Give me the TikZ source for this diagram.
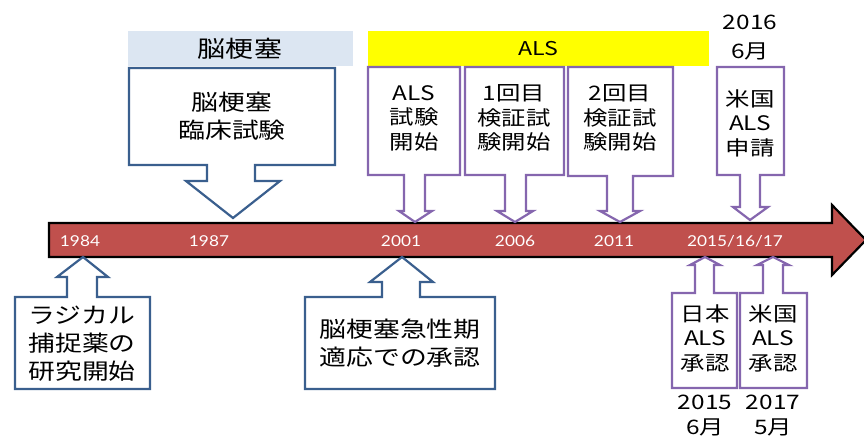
\documentclass[tikz,border=0pt]{standalone}
\usepackage{fontspec}
\newfontfamily\jp[FakeStretch=1.22]{Noto Sans CJK JP}
\newfontfamily\yrfont[FakeStretch=1.15]{Lato}
\definecolor{barred}{HTML}{C0504D}
\definecolor{cblue}{HTML}{3A5F8E}
\definecolor{cpurple}{HTML}{8566AE}
\definecolor{hblue}{HTML}{DCE6F2}
\definecolor{hyellow}{HTML}{FFFF00}
\begin{document}
\begin{tikzpicture}[x=1pt,y=-1pt,
  callblue/.style={draw=cblue,line width=2.2pt,fill=white,line join=miter},
  callpurple/.style={draw=cpurple,line width=2.2pt,fill=white,line join=miter},
  bigtxt/.style={align=center,inner sep=0pt,font={\jp\fontsize{22}{28}\selectfont}},
  smalltxt/.style={align=center,inner sep=0pt,font={\jp\fontsize{20}{24.5}\selectfont}},
  datetxt/.style={align=center,inner sep=0pt,font={\jp\fontsize{20}{25}\selectfont}},
  yr/.style={text=white,inner sep=0pt,font={\yrfont\fontsize{15}{18}\selectfont}},
  hdr/.style={inner sep=0pt,font={\jp\fontsize{23}{26}\selectfont}}]
\useasboundingbox (0,0) rectangle (864,436);

% main timeline arrow
\draw[fill=barred,draw=black,line width=2.2pt,line join=miter]
  (49,223) -- (832,223) -- (832,205) -- (866,240) -- (832,275) -- (832,257) -- (49,257) -- cycle;

% header bars
\fill[hblue] (128,31) rectangle (353,66);
\node[hdr] (hstroke) at (240,48.5) {脳梗塞};
\fill[hyellow] (368,31) rectangle (709,66);
\node[hdr,font={\jp\fontsize{19}{22}\selectfont}] (hals) at (538,48.5) {ALS};

% top callouts
\draw[callblue] (129,68) -- (335,68) -- (335,165) -- (255,165) -- (255,181) -- (280,181) -- (233,218) -- (186,181) -- (207,181) -- (207,165) -- (129,165) -- cycle;
\node[bigtxt] (t1) at (232,116) {脳梗塞\\臨床試験};

\draw[callpurple] (368,67) -- (460,67) -- (460,175) -- (425,175) -- (425,211) -- (432,211) -- (415,222) -- (399,211) -- (404,211) -- (404,175) -- (368,175) -- cycle;
\node[smalltxt] (t2) at (414,118) {ALS\\試験\\開始};

\draw[callpurple] (465,67) -- (564,67) -- (564,175) -- (526,175) -- (526,211) -- (533,211) -- (515,222) -- (497,211) -- (505,211) -- (505,175) -- (465,175) -- cycle;
\node[smalltxt] (t3) at (514,118) {1回目\\検証試\\験開始};

\draw[callpurple] (568,67) -- (673,67) -- (673,176) -- (633,176) -- (633,211) -- (640,211) -- (620,222) -- (600,211) -- (607,211) -- (607,176) -- (568,176) -- cycle;
\node[smalltxt] (t4) at (620,118) {2回目\\検証試\\験開始};

\draw[callpurple] (717,67) -- (784,67) -- (784,175) -- (760,175) -- (760,207) -- (768,207) -- (750,220) -- (733,207) -- (740,207) -- (740,175) -- (717,175) -- cycle;
\node[smalltxt] (t5) at (750,123) {米国\\ALS\\申請};
\node[datetxt,font={\jp\fontsize{20}{29}\selectfont}] (d1) at (750,38) {2016\\6月};

% bottom callouts
\draw[callblue] (15,389) -- (150,389) -- (150,297) -- (97,297) -- (97,277) -- (108,277) -- (83,257) -- (57,277) -- (67,277) -- (67,297) -- (15,297) -- cycle;
\node[bigtxt] (b1) at (82,344) {ラジカル\\捕捉薬の\\研究開始};

\draw[callblue] (305,389) -- (495,389) -- (495,297) -- (420,297) -- (420,282) -- (433,282) -- (402,257) -- (370,282) -- (382,282) -- (382,297) -- (305,297) -- cycle;
\node[bigtxt] (b2) at (400,343) {脳梗塞急性期\\適応での承認};

\draw[callpurple] (672,388) -- (737,388) -- (737,293) -- (714,293) -- (714,265) -- (720,265) -- (705,257) -- (690,265) -- (695,265) -- (695,293) -- (672,293) -- cycle;
\node[smalltxt] (b3) at (705,338) {日本\\ALS\\承認};

\draw[callpurple] (740,388) -- (807,388) -- (807,293) -- (783,293) -- (783,265) -- (789,265) -- (773,257) -- (757,265) -- (763,265) -- (763,293) -- (740,293) -- cycle;
\node[smalltxt] (b4) at (773,338) {米国\\ALS\\承認};

\node[datetxt] (d2) at (705,416) {2015\\6月};
\node[datetxt] (d3) at (773,416) {2017\\5月};

% year labels
\node[yr] (y1984) at (80,241) {1984};
\node[yr] (y1987) at (209,241) {1987};
\node[yr] (y2001) at (401,241) {2001};
\node[yr] (y2006) at (515,241) {2006};
\node[yr] (y2011) at (614,241) {2011};
\node[yr] (y2015) at (735,241) {2015/16/17};
\end{tikzpicture}
\end{document}
